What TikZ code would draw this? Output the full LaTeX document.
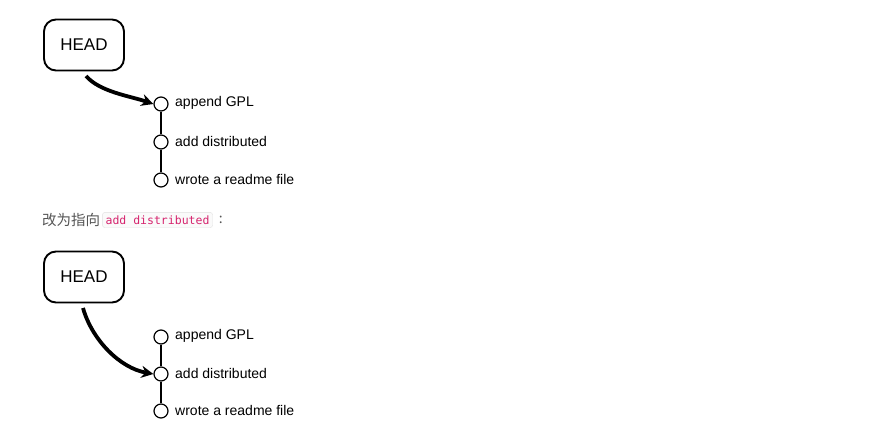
\documentclass[tikz,border=0pt]{standalone}
\usepackage{fontspec}
\setmainfont{Liberation Sans}
\newfontfamily\cjk{Noto Sans CJK SC}
\newfontfamily\codefont{DejaVu Sans Mono}
\usetikzlibrary{arrows.meta}
\definecolor{codepink}{HTML}{D6246E}
\definecolor{codebg}{HTML}{FAFAFA}
\definecolor{txtgray}{HTML}{555555}
\begin{document}
\begin{tikzpicture}[x=1pt,y=-1pt,
  headbox/.style={draw, line width=1.9pt, rounded corners=12pt, minimum width=80pt, minimum height=51pt, font=\fontsize{17}{17}\selectfont},
  commit/.style={draw, line width=1.2pt, circle, minimum size=14pt, inner sep=0pt},
  clabel/.style={anchor=west, font=\fontsize{14}{14}\selectfont, inner sep=0pt},
  link/.style={line width=1.3pt},
  headarrow/.style={line width=3.8pt, -{Stealth[length=12pt,width=12pt]}}]
\useasboundingbox (0,0) rectangle (872,429);
% ---- top diagram
\node[headbox] (h1) at (84,45) {HEAD};
\node[commit] (a1) at (161,104) {};
\node[commit] (b1) at (161,142) {};
\node[commit] (c1) at (161,180) {};
\node[clabel] (la1) at (175,103) {append GPL};
\node[clabel] (lb1) at (175,141) {add distributed};
\node[clabel] (lc1) at (175,179) {wrote a readme file};
\draw[link] (a1) -- (b1);
\draw[link] (b1) -- (c1);
\draw[headarrow] (86,76) .. controls (100,92) and (130,96) .. (a1.west);
% ---- middle text
\node[anchor=west, inner sep=0pt, text=txtgray, font=\cjk\fontsize{14.5}{14.5}\selectfont] (t1) at (42,220) {改为指向};
\node[anchor=west, draw=black!13, fill=codebg, rounded corners=2pt, inner xsep=3pt, inner ysep=3pt, text=codepink, font=\codefont\fontsize{11.5}{11.5}\selectfont] (code) at ([xshift=2pt]t1.east) {add distributed};
\node[anchor=west, inner sep=0pt, text=txtgray, font=\cjk\fontsize{14}{14}\selectfont] (t2) at ([xshift=6pt]code.east) {:};
% ---- bottom diagram
\node[headbox] (h2) at (84,277) {HEAD};
\node[commit] (a2) at (161,337) {};
\node[commit] (b2) at (161,374) {};
\node[commit] (c2) at (161,411) {};
\node[clabel] (la2) at (175,336) {append GPL};
\node[clabel] (lb2) at (175,373) {add distributed};
\node[clabel] (lc2) at (175,410) {wrote a readme file};
\draw[link] (a2) -- (b2);
\draw[link] (b2) -- (c2);
\draw[headarrow] (83,308) .. controls (92,340) and (120,368) .. (b2.west);
\end{tikzpicture}
\end{document}
